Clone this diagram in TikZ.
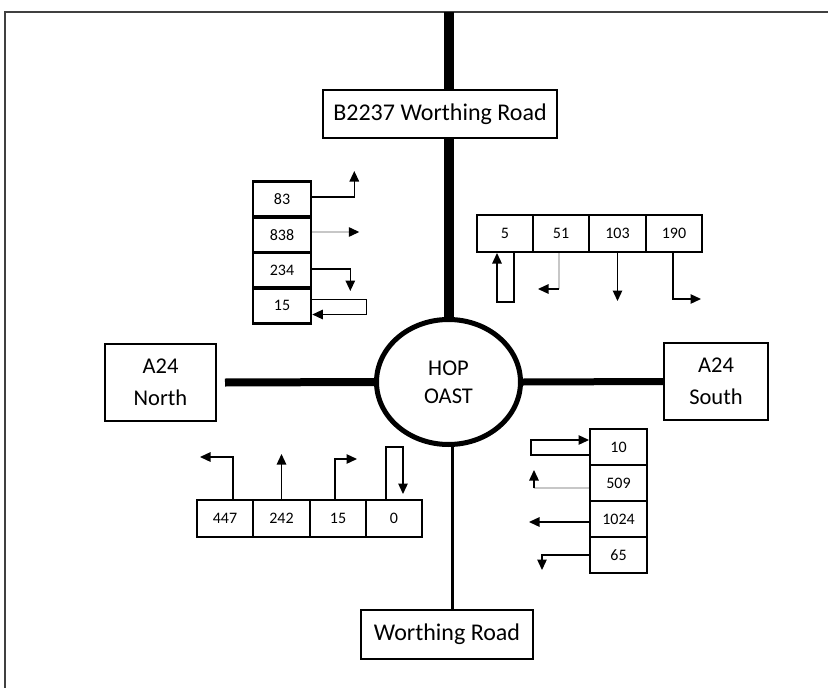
\documentclass[tikz,border=0pt]{standalone}
\usepackage{fontspec}
\setmainfont{Carlito}
\usetikzlibrary{shapes.geometric,arrows.meta,calc}
\begin{document}
\begin{tikzpicture}[x=1pt,y=-1pt,
  roadbox/.style={draw,line width=2pt,inner sep=0pt,font=\fontsize{24}{28}\selectfont},
  placebox/.style={draw,line width=2pt,inner sep=0pt,align=center,font=\fontsize{22.5}{31.5}\selectfont},
  cell/.style={draw,line width=2pt,inner sep=0pt,font=\fontsize{16}{18}\selectfont},
  tlcell/.style={cell,line width=2.6pt,minimum width=58pt,minimum height=35.5pt},
  hcell/.style={cell,minimum width=56.25pt,minimum height=37pt},
  brcell/.style={cell,minimum width=57pt,minimum height=36pt},
  arr/.style={line width=1.3pt,-{Triangle[length=10.5pt,width=9.5pt]}},
  faintarr/.style={line width=1.3pt,draw=black!22,-{Triangle[length=10.5pt,width=9.5pt,color=black]}},
  faint/.style={line width=1.3pt,draw=black!22},
]
\useasboundingbox (0,0) rectangle (828,688);
% frame
\draw[line width=1.5pt,black!75] (5,688) -- (5,12) -- (828,12);

% main nodes
\node[roadbox,minimum width=234pt,minimum height=48pt] (b2237) at (440,114) {B2237 Worthing Road};
\node[draw,ellipse,line width=5pt,inner sep=0pt,minimum width=144pt,minimum height=125pt,align=center,font=\fontsize{22.5}{28}\selectfont] (hop) at (448.5,382) {HOP\\OAST};
\node[placebox,minimum width=111pt,minimum height=77pt] (north) at (160.5,382.5) {A24\\North};
\node[placebox,minimum width=104pt,minimum height=77pt] (south) at (716,381.5) {A24\\South};
\node[roadbox,minimum width=172pt,minimum height=49pt] (worthing) at (447,634.5) {Worthing Road};

% roads
\coordinate (ntop) at (449,12);
\draw[line width=10pt] (ntop) -- (ntop |- b2237.north);
\draw[line width=10pt] (b2237.south -| ntop) -- (hop.north -| ntop);
\draw[line width=8pt] ([xshift=8pt]north.east) -- (hop.west);
\draw[line width=7pt] (hop.east) -- (south.west);
\draw[line width=3pt] (hop.south -| worthing.north) ++(5,0) coordinate (sroad) -- (sroad |- worthing.north);

% top-left group
\node[tlcell] (tl1) at (282,199) {83};
\node[tlcell] (tl2) at (282,235) {838};
\node[tlcell] (tl3) at (282,270.5) {234};
\node[tlcell] (tl4) at (282,305.5) {15};
\draw[arr] ([yshift=2pt]tl1.east) -- ++(42,0) -- ++(0,-26);
\draw[faintarr] ([yshift=3pt]tl2.east) -- ++(47,0);
\draw[arr] ([yshift=1.5pt]tl3.east) -- ++(38,0) -- ++(0,22);
\draw[arr] ([yshift=6pt]tl4.east) -- ++(54,0) -- ++(0,15) -- ([yshift=-9pt]tl4.east);

% top-right group
\node[hcell] (tr1) at (505,233.5) {5};
\node[hcell] (tr2) at (561,233.5) {51};
\node[hcell] (tr3) at (617.5,233.5) {103};
\node[hcell] (tr4) at (674,233.5) {190};
\draw[arr] ([xshift=9pt]tr1.south) -- ++(0,49) -- ++(-17,0) -- ([xshift=-8pt]tr1.south);
\draw[faint] ([xshift=-2pt]tr2.south) -- ++(0,36) coordinate (tr2c);
\draw[arr] (tr2c) -- ++(-21,0);
\draw[arr] (tr3.south) -- ++(0,48);
\draw[arr] ([xshift=-1pt]tr4.south) -- ++(0,46) -- ++(28,0);

% bottom-left group
\node[hcell] (bl1) at (225,518.5) {447};
\node[hcell] (bl2) at (281.5,518.5) {242};
\node[hcell] (bl3) at (338,518.5) {15};
\node[hcell] (bl4) at (394,518.5) {0};
\draw[arr] ([xshift=8pt]bl1.north) -- ++(0,-42) -- ++(-33,0);
\draw[arr] (bl2.north) -- ++(0,-45);
\draw[arr] ([xshift=-3pt]bl3.north) -- ++(0,-40) -- ++(22,0);
\draw[arr] ([xshift=-8pt]bl4.north) -- ++(0,-52) -- ++(17,0) -- ++(0,47);

% bottom-right group
\node[brcell] (br1) at (618.5,447) {10};
\node[brcell] (br2) at (618.5,483) {509};
\node[brcell] (br3) at (618.5,519) {1024};
\node[brcell] (br4) at (618.5,555) {65};
\draw[arr] ([yshift=-8pt]br1.west) -- ++(-58,0) -- ++(0,-15) -- ([yshift=7pt]br1.west);
\draw[faint] ([yshift=-5pt]br2.west) -- ++(-55,0) coordinate (br2c);
\draw[arr] (br2c) -- ++(0,-18);
\draw[arr] ([yshift=-3pt]br3.west) -- ++(-60,0);
\draw[arr] (br4.west) -- ++(-47,0) -- ++(0,15);
\end{tikzpicture}
\end{document}
